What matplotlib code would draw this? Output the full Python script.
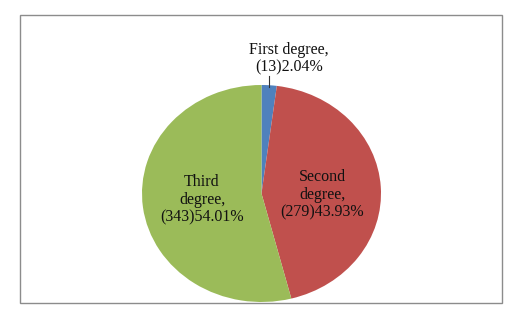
import matplotlib
matplotlib.use("Agg")
import matplotlib.pyplot as plt
from matplotlib.patches import Rectangle

categories = ["First degree", "Second degree", "Third degree"]
counts = [13, 279, 343]
percents = [2.04, 43.93, 54.01]
colors = ["#4F81BD", "#C0504D", "#9BBB59"]

plt.rcParams['font.family'] = ['Liberation Serif', 'DejaVu Serif']

W, H = 513, 309
fig = plt.figure(figsize=(W / 100, H / 100), dpi=100)
fig.patch.set_facecolor("white")

# chart border
fig.patches.append(Rectangle((19.5 / W, 1 - 302.5 / H), 482 / W, 288 / H,
                             transform=fig.transFigure, fill=False,
                             edgecolor="#8C8C8C", linewidth=1.0, zorder=0))

ax = fig.add_axes([142 / W, 1 - 302 / H, 239 / W, 217 / H])
wedges, _ = ax.pie(counts, colors=colors, startangle=90, counterclock=False,
                   radius=1.0, wedgeprops=dict(linewidth=0))
ax.set_aspect('auto')
ax.set_xlim(-1, 1)
ax.set_ylim(-1, 1)

labels = [f"{categories[0]},\n({counts[0]}){percents[0]:.2f}%",
          f"Second\ndegree,\n({counts[1]}){percents[1]:.2f}%",
          f"Third\ndegree,\n({counts[2]}){percents[2]:.2f}%"]

def fx(px):
    return px / W
def fy(py):
    return 1 - py / H

fs = 11.5
ls = 1.15
fig.text(fx(289), fy(58.5), labels[0], ha='center', va='center', fontsize=fs,
         linespacing=ls, color='#111111')
fig.text(fx(322), fy(195), labels[1], ha='center', va='center', fontsize=fs,
         linespacing=ls, color='#111111')
fig.text(fx(202), fy(200), labels[2], ha='center', va='center', fontsize=fs,
         linespacing=ls, color='#111111')

# leader line for small slice
fig.add_artist(plt.Line2D([fx(269.3), fx(269.3)], [fy(76), fy(87)],
                          transform=fig.transFigure, color='#333333', linewidth=0.8))

fig.savefig("out.png", dpi=100)
